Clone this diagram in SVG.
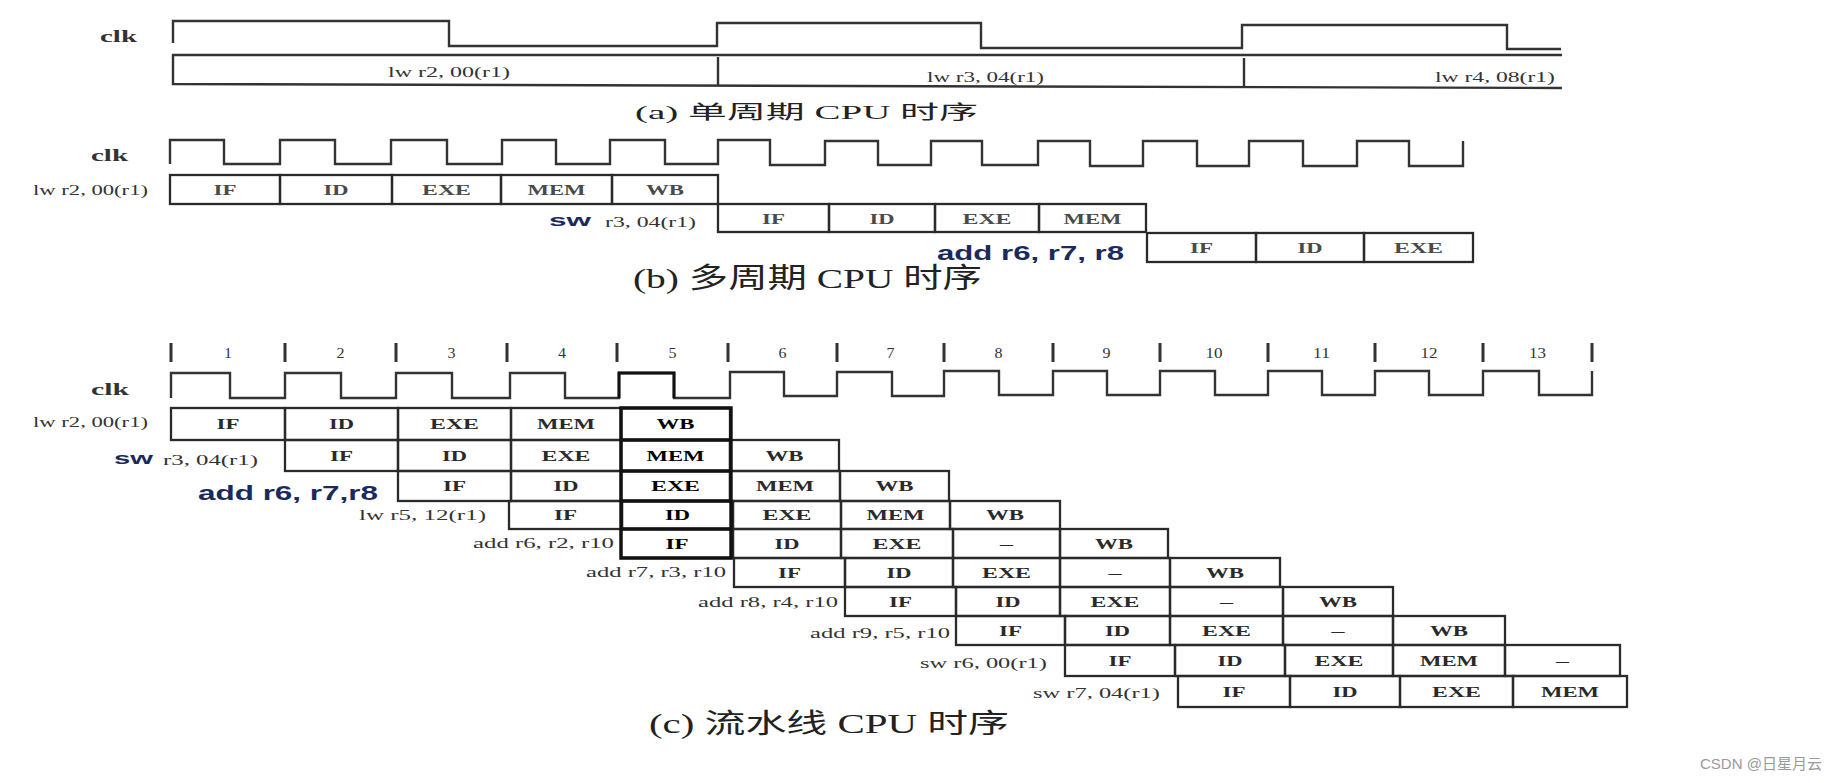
<svg xmlns="http://www.w3.org/2000/svg" width="1837" height="783" viewBox="0 0 1837 783">
<style>
.bg{fill:#fff}
.wave{fill:none;stroke:#333;stroke-width:2.4;stroke-linejoin:miter}
.cell{fill:none;stroke:#2a2a2a;stroke-width:2.3}
.hl{fill:none;stroke:#111;stroke-width:3.4}
.tick{stroke:#333;stroke-width:3}
.ct{font-family:"Liberation Serif",serif;font-size:14px;font-weight:bold;fill:#2a2a2a}
.ctb{font-family:"Liberation Serif",serif;font-size:14px;font-weight:bold;fill:#000}
.ctg{font-family:"Liberation Serif",serif;font-size:14px;font-weight:bold;fill:#4a4a4a}
.lb{font-family:"Liberation Serif",serif;font-size:14px;fill:#333}
.num{font-family:"Liberation Serif",serif;font-size:14px;fill:#333}
.clk{font-family:"Liberation Serif",serif;font-size:17px;font-weight:bold;fill:#333}
.sans{font-family:"Liberation Sans",Arial,sans-serif;font-weight:bold;fill:#1b2a5e}
.ttl{font-family:"Liberation Serif","Noto Sans CJK SC",serif;fill:#222}
.wm{font-family:"Liberation Sans","Noto Sans CJK SC",sans-serif;font-size:15px;fill:#9a9a9a}
</style>
<rect class="bg" x="0" y="0" width="1837" height="783"/>

<!-- ===== (a) single-cycle ===== -->
<g id="a-clk-label"><text class="clk" x="100" y="42" textLength="37" lengthAdjust="spacingAndGlyphs">clk</text></g>
<g id="connectors">
<path id="a-clock" class="wave" d="M173,43 V21 H449 V46 H717 V23 H981 V48 H1242 V25 H1507 V49 H1561"/>
<path id="b-clock" class="wave" d="M170,164 V140 H224 V164 H280 V140 H335 V164 H391 V140 H447 V164 H502 V140 H556 V164 H610 V140 H665 V164 H718 V140 H770 V165 H825 V141 H878 V165 H931 V141 H982 V165 H1038 V141 H1090 V166 H1143 V141 H1197 V166 H1249 V141 H1303 V166 H1357 V141 H1409 V166 H1463 V141"/>
<path id="c-clock" class="wave" d="M171,398 V373 H230 V398 H285 V373 H341 V398 H396 V373 H452 V398 H510 V373 H565 V398 H619 V373 H674 V398 H730 V372 H784 V396 H837 V372 H892 V396 H944 V371 H999 V395 H1053 V371 H1107 V395 H1160 V371 H1215 V395 H1268 V371 H1322 V395 H1375 V371 H1429 V395 H1483 V371 H1539 V395 H1592 V371"/>
<path id="c-clock-hl" fill="none" stroke="#111" stroke-width="3" d="M619,398 V373 H674 V398"/>
</g>
<g id="a-bus">
<path class="wave" d="M1562,55 L173,55 L173,84 L1562,88"/>
<path class="wave" d="M718,57 V86 M1244,58 V87"/>
<text class="lb" font-size="13" x="388" y="77" textLength="122" lengthAdjust="spacingAndGlyphs">lw r2, 00(r1)</text>
<text class="lb" font-size="13" x="927" y="82" textLength="117" lengthAdjust="spacingAndGlyphs">lw r3, 04(r1)</text>
<text class="lb" font-size="13" x="1435" y="82" textLength="120" lengthAdjust="spacingAndGlyphs">lw r4, 08(r1)</text>
</g>
<g id="a-title"><text class="ttl" font-size="19" x="635" y="119" textLength="343" lengthAdjust="spacingAndGlyphs">(a) 单周期 CPU 时序</text></g>

<!-- ===== (b) multi-cycle ===== -->
<g id="b-clk-label"><text class="clk" x="91" y="161" textLength="37" lengthAdjust="spacingAndGlyphs">clk</text></g>
<g id="b-row1">
<text class="lb" x="33" y="195" textLength="115" lengthAdjust="spacingAndGlyphs">lw r2, 00(r1)</text>
<rect class="cell" x="170" y="175" width="110" height="29"/><rect class="cell" x="280" y="175" width="112" height="29"/><rect class="cell" x="392" y="175" width="109" height="29"/><rect class="cell" x="501" y="175" width="111" height="29"/><rect class="cell" x="612" y="175" width="106" height="29"/>
<text class="ctg" x="213.5" y="194.5" textLength="23" lengthAdjust="spacingAndGlyphs">IF</text>
<text class="ctg" x="323.5" y="194.5" textLength="25" lengthAdjust="spacingAndGlyphs">ID</text>
<text class="ctg" x="422" y="194.5" textLength="49" lengthAdjust="spacingAndGlyphs">EXE</text>
<text class="ctg" x="527.5" y="194.5" textLength="58" lengthAdjust="spacingAndGlyphs">MEM</text>
<text class="ctg" x="646" y="194.5" textLength="38" lengthAdjust="spacingAndGlyphs">WB</text>
</g>
<g id="b-row2">
<text class="sans" font-size="17" x="549" y="226" textLength="42" lengthAdjust="spacingAndGlyphs">sw</text>
<text class="lb" x="605" y="227" textLength="91" lengthAdjust="spacingAndGlyphs">r3, 04(r1)</text>
<rect class="cell" x="718" y="204" width="111" height="28"/><rect class="cell" x="829" y="204" width="106" height="28"/><rect class="cell" x="935" y="204" width="104" height="28"/><rect class="cell" x="1039" y="204" width="107" height="28"/>
<text class="ctg" x="762" y="223.5" textLength="23" lengthAdjust="spacingAndGlyphs">IF</text>
<text class="ctg" x="869.5" y="223.5" textLength="25" lengthAdjust="spacingAndGlyphs">ID</text>
<text class="ctg" x="962.5" y="223.5" textLength="49" lengthAdjust="spacingAndGlyphs">EXE</text>
<text class="ctg" x="1063.5" y="223.5" textLength="58" lengthAdjust="spacingAndGlyphs">MEM</text>
</g>
<g id="b-row3">
<text class="sans" font-size="21" x="937" y="260" textLength="187" lengthAdjust="spacingAndGlyphs">add r6, r7, r8</text>
<rect class="cell" x="1147" y="233" width="109" height="29"/><rect class="cell" x="1256" y="233" width="108" height="29"/><rect class="cell" x="1364" y="233" width="109" height="29"/>
<text class="ctg" x="1190" y="252.5" textLength="23" lengthAdjust="spacingAndGlyphs">IF</text>
<text class="ctg" x="1297.5" y="252.5" textLength="25" lengthAdjust="spacingAndGlyphs">ID</text>
<text class="ctg" x="1394" y="252.5" textLength="49" lengthAdjust="spacingAndGlyphs">EXE</text>
</g>
<g id="b-title"><text class="ttl" font-size="28" x="633" y="288" textLength="349" lengthAdjust="spacingAndGlyphs">(b) 多周期 CPU 时序</text></g>

<!-- ===== (c) pipeline ===== -->
<g id="c-ticks">
<path class="tick" d="M171,343 V362 M285,343 V362 M396,343 V362 M507,343 V362 M617,343 V362 M728,343 V362 M837,343 V362 M944,343 V362 M1053,343 V362 M1160,343 V362 M1268,343 V362 M1375,343 V362 M1483,343 V362 M1592,343 V362"/>
<text class="num" x="224" y="358" textLength="8" lengthAdjust="spacingAndGlyphs">1</text>
<text class="num" x="336.5" y="358" textLength="8" lengthAdjust="spacingAndGlyphs">2</text>
<text class="num" x="447.5" y="358" textLength="8" lengthAdjust="spacingAndGlyphs">3</text>
<text class="num" x="558" y="358" textLength="8" lengthAdjust="spacingAndGlyphs">4</text>
<text class="num" x="668.5" y="358" textLength="8" lengthAdjust="spacingAndGlyphs">5</text>
<text class="num" x="778.5" y="358" textLength="8" lengthAdjust="spacingAndGlyphs">6</text>
<text class="num" x="886.5" y="358" textLength="8" lengthAdjust="spacingAndGlyphs">7</text>
<text class="num" x="994.5" y="358" textLength="8" lengthAdjust="spacingAndGlyphs">8</text>
<text class="num" x="1102.5" y="358" textLength="8" lengthAdjust="spacingAndGlyphs">9</text>
<text class="num" x="1205.5" y="358" textLength="17" lengthAdjust="spacingAndGlyphs">10</text>
<text class="num" x="1313" y="358" textLength="17" lengthAdjust="spacingAndGlyphs">11</text>
<text class="num" x="1420.5" y="358" textLength="17" lengthAdjust="spacingAndGlyphs">12</text>
<text class="num" x="1529" y="358" textLength="17" lengthAdjust="spacingAndGlyphs">13</text>
</g>
<g id="c-clk-label"><text class="clk" x="91" y="395" textLength="38" lengthAdjust="spacingAndGlyphs">clk</text></g>

<g id="c-row1">
<text class="lb" x="33" y="427" textLength="115" lengthAdjust="spacingAndGlyphs">lw r2, 00(r1)</text>
<rect class="cell" x="171" y="408" width="114" height="32"/><rect class="cell" x="285" y="408" width="113" height="32"/><rect class="cell" x="398" y="408" width="113" height="32"/><rect class="cell" x="511" y="408" width="110" height="32"/><rect class="cell" x="621" y="408" width="109" height="32"/>
<text class="ct" x="216.5" y="429" textLength="23" lengthAdjust="spacingAndGlyphs">IF</text>
<text class="ct" x="329" y="429" textLength="25" lengthAdjust="spacingAndGlyphs">ID</text>
<text class="ct" x="430" y="429" textLength="49" lengthAdjust="spacingAndGlyphs">EXE</text>
<text class="ct" x="537" y="429" textLength="58" lengthAdjust="spacingAndGlyphs">MEM</text>
<text class="ctb" x="656.5" y="429" textLength="38" lengthAdjust="spacingAndGlyphs">WB</text>
</g>
<g id="c-row2">
<text class="sans" font-size="17" x="114" y="464" textLength="39" lengthAdjust="spacingAndGlyphs">sw</text>
<text class="lb" x="163" y="465" textLength="95" lengthAdjust="spacingAndGlyphs">r3, 04(r1)</text>
<rect class="cell" x="285" y="440" width="113" height="31"/><rect class="cell" x="398" y="440" width="113" height="31"/><rect class="cell" x="511" y="440" width="110" height="31"/><rect class="cell" x="621" y="440" width="109" height="31"/><rect class="cell" x="730" y="440" width="109" height="31"/>
<text class="ct" x="330" y="460.5" textLength="23" lengthAdjust="spacingAndGlyphs">IF</text>
<text class="ct" x="442" y="460.5" textLength="25" lengthAdjust="spacingAndGlyphs">ID</text>
<text class="ct" x="541.5" y="460.5" textLength="49" lengthAdjust="spacingAndGlyphs">EXE</text>
<text class="ctb" x="646.5" y="460.5" textLength="58" lengthAdjust="spacingAndGlyphs">MEM</text>
<text class="ct" x="765.5" y="460.5" textLength="38" lengthAdjust="spacingAndGlyphs">WB</text>
</g>
<g id="c-row3">
<text class="sans" font-size="21" x="198" y="500" textLength="180" lengthAdjust="spacingAndGlyphs">add r6, r7,r8</text>
<rect class="cell" x="398" y="471" width="113" height="30"/><rect class="cell" x="511" y="471" width="110" height="30"/><rect class="cell" x="621" y="471" width="109" height="30"/><rect class="cell" x="730" y="471" width="110" height="30"/><rect class="cell" x="840" y="471" width="109" height="30"/>
<text class="ct" x="443" y="491" textLength="23" lengthAdjust="spacingAndGlyphs">IF</text>
<text class="ct" x="553.5" y="491" textLength="25" lengthAdjust="spacingAndGlyphs">ID</text>
<text class="ctb" x="651" y="491" textLength="49" lengthAdjust="spacingAndGlyphs">EXE</text>
<text class="ct" x="756" y="491" textLength="58" lengthAdjust="spacingAndGlyphs">MEM</text>
<text class="ct" x="875.5" y="491" textLength="38" lengthAdjust="spacingAndGlyphs">WB</text>
</g>
<g id="c-row4">
<text class="lb" x="359" y="520" textLength="127" lengthAdjust="spacingAndGlyphs">lw r5, 12(r1)</text>
<rect class="cell" x="509" y="501" width="113" height="28"/><rect class="cell" x="622" y="501" width="111" height="28"/><rect class="cell" x="733" y="501" width="108" height="28"/><rect class="cell" x="841" y="501" width="109" height="28"/><rect class="cell" x="950" y="501" width="110" height="28"/>
<text class="ct" x="554" y="520" textLength="23" lengthAdjust="spacingAndGlyphs">IF</text>
<text class="ctb" x="665" y="520" textLength="25" lengthAdjust="spacingAndGlyphs">ID</text>
<text class="ct" x="762.5" y="520" textLength="49" lengthAdjust="spacingAndGlyphs">EXE</text>
<text class="ct" x="866.5" y="520" textLength="58" lengthAdjust="spacingAndGlyphs">MEM</text>
<text class="ct" x="986" y="520" textLength="38" lengthAdjust="spacingAndGlyphs">WB</text>
</g>
<g id="c-row5">
<text class="lb" x="473" y="548" textLength="141" lengthAdjust="spacingAndGlyphs">add r6, r2, r10</text>
<rect class="cell" x="621" y="529" width="112" height="29"/><rect class="cell" x="733" y="529" width="108" height="29"/><rect class="cell" x="841" y="529" width="112" height="29"/><rect class="cell" x="953" y="529" width="107" height="29"/><rect class="cell" x="1060" y="529" width="108" height="29"/>
<text class="ctb" x="665.5" y="548.5" textLength="23" lengthAdjust="spacingAndGlyphs">IF</text>
<text class="ct" x="774.5" y="548.5" textLength="25" lengthAdjust="spacingAndGlyphs">ID</text>
<text class="ct" x="872.5" y="548.5" textLength="49" lengthAdjust="spacingAndGlyphs">EXE</text>
<text class="ct" x="1000" y="548.5" textLength="13" lengthAdjust="spacingAndGlyphs">–</text>
<text class="ct" x="1095" y="548.5" textLength="38" lengthAdjust="spacingAndGlyphs">WB</text>
</g>
<g id="c-row6">
<text class="lb" x="586" y="577" textLength="140" lengthAdjust="spacingAndGlyphs">add r7, r3, r10</text>
<rect class="cell" x="734" y="558" width="111" height="29"/><rect class="cell" x="845" y="558" width="108" height="29"/><rect class="cell" x="953" y="558" width="107" height="29"/><rect class="cell" x="1060" y="558" width="110" height="29"/><rect class="cell" x="1170" y="558" width="110" height="29"/>
<text class="ct" x="778" y="577.5" textLength="23" lengthAdjust="spacingAndGlyphs">IF</text>
<text class="ct" x="886.5" y="577.5" textLength="25" lengthAdjust="spacingAndGlyphs">ID</text>
<text class="ct" x="982" y="577.5" textLength="49" lengthAdjust="spacingAndGlyphs">EXE</text>
<text class="ct" x="1108.5" y="577.5" textLength="13" lengthAdjust="spacingAndGlyphs">–</text>
<text class="ct" x="1206" y="577.5" textLength="38" lengthAdjust="spacingAndGlyphs">WB</text>
</g>
<g id="c-row7">
<text class="lb" x="698" y="607" textLength="140" lengthAdjust="spacingAndGlyphs">add r8, r4, r10</text>
<rect class="cell" x="845" y="587" width="111" height="29"/><rect class="cell" x="956" y="587" width="104" height="29"/><rect class="cell" x="1060" y="587" width="110" height="29"/><rect class="cell" x="1170" y="587" width="113" height="29"/><rect class="cell" x="1283" y="587" width="110" height="29"/>
<text class="ct" x="889" y="606.5" textLength="23" lengthAdjust="spacingAndGlyphs">IF</text>
<text class="ct" x="995.5" y="606.5" textLength="25" lengthAdjust="spacingAndGlyphs">ID</text>
<text class="ct" x="1090.5" y="606.5" textLength="49" lengthAdjust="spacingAndGlyphs">EXE</text>
<text class="ct" x="1220" y="606.5" textLength="13" lengthAdjust="spacingAndGlyphs">–</text>
<text class="ct" x="1319" y="606.5" textLength="38" lengthAdjust="spacingAndGlyphs">WB</text>
</g>
<g id="c-row8">
<text class="lb" x="810" y="638" textLength="140" lengthAdjust="spacingAndGlyphs">add r9, r5, r10</text>
<rect class="cell" x="956" y="616" width="109" height="29"/><rect class="cell" x="1065" y="616" width="105" height="29"/><rect class="cell" x="1170" y="616" width="113" height="29"/><rect class="cell" x="1283" y="616" width="110" height="29"/><rect class="cell" x="1393" y="616" width="112" height="29"/>
<text class="ct" x="999" y="635.5" textLength="23" lengthAdjust="spacingAndGlyphs">IF</text>
<text class="ct" x="1105" y="635.5" textLength="25" lengthAdjust="spacingAndGlyphs">ID</text>
<text class="ct" x="1202" y="635.5" textLength="49" lengthAdjust="spacingAndGlyphs">EXE</text>
<text class="ct" x="1331.5" y="635.5" textLength="13" lengthAdjust="spacingAndGlyphs">–</text>
<text class="ct" x="1430" y="635.5" textLength="38" lengthAdjust="spacingAndGlyphs">WB</text>
</g>
<g id="c-row9">
<text class="lb" x="920" y="668" textLength="127" lengthAdjust="spacingAndGlyphs">sw r6, 00(r1)</text>
<rect class="cell" x="1065" y="645" width="110" height="31"/><rect class="cell" x="1175" y="645" width="110" height="31"/><rect class="cell" x="1285" y="645" width="108" height="31"/><rect class="cell" x="1393" y="645" width="112" height="31"/><rect class="cell" x="1505" y="645" width="115" height="31"/>
<text class="ct" x="1108.5" y="665.5" textLength="23" lengthAdjust="spacingAndGlyphs">IF</text>
<text class="ct" x="1217.5" y="665.5" textLength="25" lengthAdjust="spacingAndGlyphs">ID</text>
<text class="ct" x="1314.5" y="665.5" textLength="49" lengthAdjust="spacingAndGlyphs">EXE</text>
<text class="ct" x="1420" y="665.5" textLength="58" lengthAdjust="spacingAndGlyphs">MEM</text>
<text class="ct" x="1556" y="665.5" textLength="13" lengthAdjust="spacingAndGlyphs">–</text>
</g>
<g id="c-row10">
<text class="lb" x="1033" y="698" textLength="127" lengthAdjust="spacingAndGlyphs">sw r7, 04(r1)</text>
<rect class="cell" x="1178" y="676" width="112" height="31"/><rect class="cell" x="1290" y="676" width="110" height="31"/><rect class="cell" x="1400" y="676" width="113" height="31"/><rect class="cell" x="1513" y="676" width="114" height="31"/>
<text class="ct" x="1222.5" y="696.5" textLength="23" lengthAdjust="spacingAndGlyphs">IF</text>
<text class="ct" x="1332.5" y="696.5" textLength="25" lengthAdjust="spacingAndGlyphs">ID</text>
<text class="ct" x="1432" y="696.5" textLength="49" lengthAdjust="spacingAndGlyphs">EXE</text>
<text class="ct" x="1541" y="696.5" textLength="58" lengthAdjust="spacingAndGlyphs">MEM</text>
</g>
<g id="c-highlight">
<path class="hl" d="M621,408 H731 V558 H621 Z M621,440 H731 M621,471 H731 M621,501 H731 M621,529 H731"/>
</g>
<g id="c-title"><text class="ttl" font-size="27" x="649" y="733" textLength="360" lengthAdjust="spacingAndGlyphs">(c) 流水线 CPU 时序</text></g>

<g id="watermark"><text class="wm" x="1700" y="769" textLength="122" lengthAdjust="spacingAndGlyphs">CSDN @日星月云</text></g>
</svg>
